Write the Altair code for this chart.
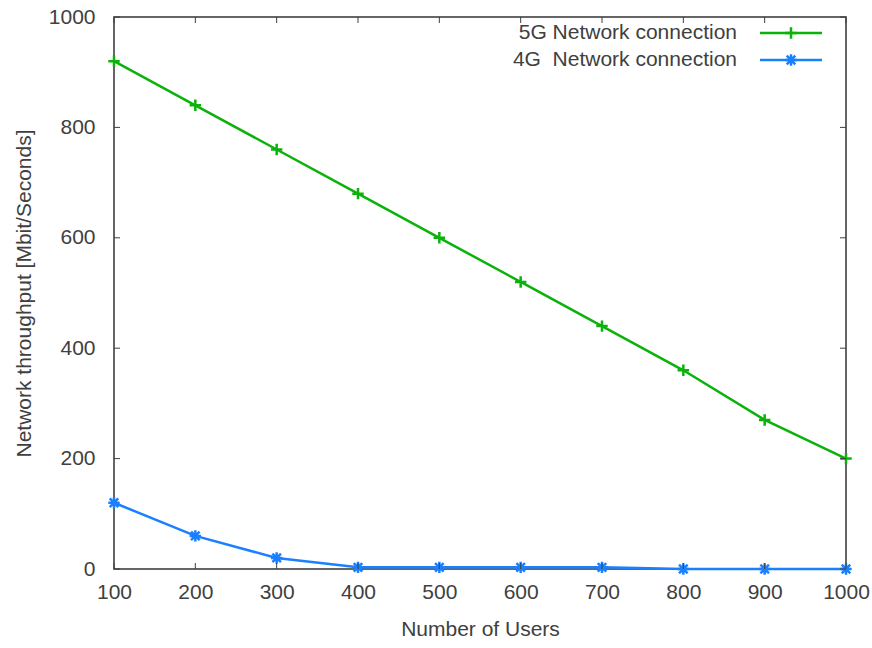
import altair as alt
import pandas as pd

users = [100, 200, 300, 400, 500, 600, 700, 800, 900, 1000]
tput_5g = [920, 840, 760, 680, 600, 520, 440, 360, 270, 200]
tput_4g = [120, 60, 20, 3, 3, 3, 3, 0, 0, 0]
series_names = ["5G Network connection", "4G\u00a0 Network connection"]
colors = ["#0ab20a", "#1a80ff"]
x_ticks = [100, 200, 300, 400, 500, 600, 700, 800, 900, 1000]
y_ticks = [0, 200, 400, 600, 800, 1000]

W, H = 732, 552
FONT = "Liberation Sans"
FS = 21
TXT = "#404040"
LW = 2.5

plus_path = "M-1,0L1,0M0,-1L0,1"
star_path = "M-1,0L1,0M0,-1L0,1M-0.75,-0.75L0.75,0.75M-0.75,0.75L0.75,-0.75"

df = pd.DataFrame({
    "users": users * 2,
    "tput": tput_5g + tput_4g,
    "series": [series_names[0]] * len(users) + [series_names[1]] * len(users),
})

xs = alt.Scale(domain=[100, 1000], nice=False, zero=False)
ys = alt.Scale(domain=[0, 1000], nice=False)
cs = alt.Scale(domain=series_names, range=colors)
ss = alt.Scale(domain=series_names, range=[plus_path, star_path])

X = alt.X("users:Q", scale=xs, title="Number of Users",
          axis=alt.Axis(values=x_ticks, format="d", domain=False, ticks=False, tickSize=0, grid=False,
                        labelFlush=False, labelBound=False, labelOverlap=False,
                        labelPadding=12, titlePadding=16))
Y = alt.Y("tput:Q", scale=ys, title="Network throughput [Mbit/Seconds]",
          axis=alt.Axis(values=y_ticks, format="d", domain=False, ticks=False, tickSize=0, grid=False,
                        labelFlush=False, labelBound=False, labelOverlap=False,
                        labelPadding=19, titlePadding=14))

lines = alt.Chart(df).mark_line(strokeWidth=LW).encode(
    x=X, y=Y,
    color=alt.Color("series:N", scale=cs, legend=None),
    detail="series:N",
)
points = alt.Chart(df).mark_point(filled=False, strokeWidth=LW, size=130, opacity=1).encode(
    x=alt.X("users:Q", scale=xs), y=alt.Y("tput:Q", scale=ys),
    color=alt.Color("series:N", scale=cs, legend=None),
    shape=alt.Shape("series:N", scale=ss, legend=None),
)

xt = pd.DataFrame({"v": x_ticks})
yt = pd.DataFrame({"v": y_ticks})
tick_col = "#404040"
TL = 6
xtick_b = alt.Chart(xt).mark_rule(color=tick_col, strokeWidth=1).encode(
    x=alt.X("v:Q", scale=xs), y=alt.value(H), y2=alt.value(H - TL))
xtick_t = alt.Chart(xt).mark_rule(color=tick_col, strokeWidth=1).encode(
    x=alt.X("v:Q", scale=xs), y=alt.value(0), y2=alt.value(TL))
ytick_l = alt.Chart(yt).mark_rule(color=tick_col, strokeWidth=1).encode(
    y=alt.Y("v:Q", scale=ys), x=alt.value(0), x2=alt.value(TL))
ytick_r = alt.Chart(yt).mark_rule(color=tick_col, strokeWidth=1).encode(
    y=alt.Y("v:Q", scale=ys), x=alt.value(W), x2=alt.value(W - TL))

legend_layers = []
for i, (name, col, shp) in enumerate(zip(series_names, colors, [plus_path, star_path])):
    ly = 16 + i * 27
    d = pd.DataFrame({"series": [name]})
    legend_layers.append(alt.Chart(d).mark_text(align="right", baseline="middle", font=FONT,
                                                fontSize=FS, color=TXT).encode(
        text="series:N", x=alt.value(623), y=alt.value(ly)))
    legend_layers.append(alt.Chart(d).mark_rule(color=col, strokeWidth=LW).encode(
        x=alt.value(646), x2=alt.value(708), y=alt.value(ly)))
    legend_layers.append(alt.Chart(d).mark_point(shape=shp, filled=False, strokeWidth=LW, size=130,
                                                 color=col, opacity=1).encode(
        x=alt.value(677), y=alt.value(ly)))

chart = alt.layer(lines, points, xtick_b, xtick_t, ytick_l, ytick_r, *legend_layers).properties(
    width=W, height=H,
    autosize=alt.AutoSizeParams(type="none"),
    padding={"left": 114, "top": 17, "right": 26, "bottom": 79},
    background="white",
).configure_view(
    stroke="#333333", strokeWidth=1.5
).configure_axis(
    labelFont=FONT, titleFont=FONT, labelFontSize=FS, titleFontSize=FS,
    labelColor=TXT, titleColor=TXT, titleFontWeight="normal",
)

chart.save("out.html", embed_options={"renderer": "svg", "actions": False})
